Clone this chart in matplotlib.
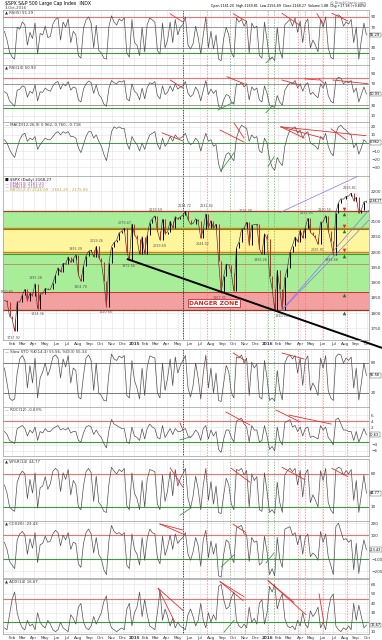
import numpy as np
import pandas as pd
import matplotlib
matplotlib.use("Agg")
import matplotlib.pyplot as plt

W, H = 382, 640
fig = plt.figure(figsize=(W / 100, H / 100), dpi=100)
fig.patch.set_facecolor("white")

first, last = "2014-01-10", "2016-09-30"
x0, x1 = pd.Timestamp("2014-01-06"), pd.Timestamp("2016-10-07")

# ---- weekly S&P 500 (swing extremes kept) ----
spx = [1842, 1838, 1790, 1782, 1741, 1838, 1836, 1859, 1878, 1841, 1866, 1857,
       1897, 1815, 1864, 1863, 1881, 1878, 1878, 1900, 1924, 1949, 1936, 1963,
       1961, 1985, 1967, 1978, 1991, 1925, 1905, 1955, 1988, 2003, 2007, 1985,
       2019, 1982, 1967, 1906, 1821, 1964, 2018, 2032, 2039, 2064, 2068, 2079,
       2002, 1973, 2093,
       2058, 2044, 1993, 2051, 1995, 2055, 2097, 2110, 2119, 2071, 2040, 2108,
       2061, 2067, 2102, 2081, 2117, 2108, 2116, 2122, 2134, 2107, 2092, 2094,
       2110, 2101, 2046, 2076, 2126, 2079, 2104, 2078, 2092, 1971, 1867, 1921,
       1961, 1958, 1931, 1872, 2015, 2033, 2075, 2079, 2099, 2023, 2089, 2090,
       2092, 2012, 1993, 2061,
       2044, 1922, 1880, 1812, 1940, 1880, 1810, 1918, 1948, 2000, 2022, 2050,
       2035, 2073, 2047, 2081, 2111, 2065, 2058, 2047, 2026, 2099, 2099, 2120,
       2071, 2037, 1992, 2130, 2162, 2175, 2174, 2183, 2184, 2194, 2169, 2180,
       2128, 2139, 2165, 2168]

rsi5 = [62, 45, 22, 12, 8, 70, 66, 80, 75, 35, 60, 48, 78, 18, 58, 55, 72, 50, 52, 76,
        85, 88, 45, 80, 70, 86, 40, 62, 55, 15, 10, 68, 84, 90, 78, 30, 74, 25, 20, 10,
        8, 72, 92, 80, 74, 86, 82, 88, 20, 12, 85,
        40, 35, 15, 70, 22, 75, 88, 84, 80, 25, 18, 78, 30, 45, 80, 40, 85, 55, 70, 75,
        90, 35, 28, 38, 72, 50, 18, 55, 90, 30, 62, 28, 55, 8, 5, 48, 70, 55, 20, 12,
        88, 80, 85, 72, 82, 20, 78, 68, 72, 15, 10, 80,
        45, 8, 12, 5, 70, 25, 10, 75, 80, 85, 72, 88, 60, 82, 40, 78, 86, 30, 45, 35,
        22, 85, 70, 90, 30, 12, 8, 92, 94, 90, 72, 80, 76, 85, 40, 70, 8, 45, 78, 55]

rsi14 = [55, 52, 38, 33, 28, 58, 60, 66, 64, 45, 56, 52, 68, 38, 55, 54, 62, 58, 56, 66,
         72, 74, 60, 70, 66, 74, 58, 64, 62, 40, 36, 60, 70, 75, 72, 52, 68, 50, 44, 32,
         28, 62, 76, 72, 70, 75, 73, 76, 42, 38, 70,
         56, 52, 40, 62, 42, 63, 72, 70, 74, 48, 42, 66, 50, 54, 66, 56, 70, 60, 64, 66,
         74, 52, 46, 50, 64, 56, 38, 58, 76, 50, 60, 52, 58, 28, 24, 40, 50, 48, 36, 32,
         70, 68, 72, 64, 70, 40, 64, 58, 62, 40, 36, 66,
         52, 30, 28, 26, 48, 36, 30, 58, 66, 72, 70, 76, 62, 70, 56, 68, 72, 50, 54, 48,
         44, 70, 62, 74, 48, 38, 34, 76, 82, 80, 70, 74, 72, 76, 54, 62, 36, 50, 64, 51]

macd = [4, 0, -8, -14, -18, -6, 4, 10, 12, 2, 6, 4, 8, -8, -2, 2, 6, 4, 4, 8,
        12, 14, 10, 14, 12, 14, 8, 8, 6, -6, -12, -2, 8, 14, 14, 6, 10, 2, -4, -14,
        -22, -6, 14, 20, 18, 20, 18, 18, 0, -8, 8,
        2, -2, -10, 0, -8, 2, 10, 12, 14, -2, -8, 6, -4, 0, 8, 2, 10, 6, 6, 8,
        12, 2, -2, 0, 6, 2, -10, 2, 12, 2, 4, -4, -2, -26, -36, -24, -14, -12, -18, -22,
        6, 16, 22, 20, 18, 2, 10, 6, 8, -10, -12, 6,
        0, -20, -30, -34, -18, -24, -28, -4, 8, 16, 18, 20, 12, 16, 6, 12, 14, 0, -2, -4,
        -8, 8, 4, 12, -4, -12, -16, 12, 20, 22, 18, 16, 12, 10, -6, 0, -14, -6, 4, 1]

sto = [70, 40, 10, 5, 8, 60, 88, 95, 85, 30, 75, 40, 90, 10, 50, 62, 80, 55, 70, 92,
       96, 90, 50, 88, 72, 95, 40, 70, 65, 12, 8, 55, 90, 96, 85, 25, 80, 20, 15, 5,
       4, 60, 98, 88, 85, 94, 90, 95, 15, 10, 85,
       45, 30, 8, 70, 15, 72, 94, 92, 90, 20, 10, 80, 25, 50, 88, 35, 92, 60, 75, 85,
       95, 30, 12, 35, 80, 50, 8, 60, 96, 30, 70, 20, 60, 5, 3, 40, 75, 62, 20, 10,
       92, 90, 96, 80, 90, 15, 82, 70, 78, 12, 8, 85,
       50, 5, 10, 4, 65, 25, 6, 80, 92, 96, 88, 95, 60, 90, 35, 85, 94, 25, 40, 30,
       15, 90, 70, 95, 25, 10, 5, 92, 98, 96, 80, 90, 85, 92, 30, 70, 6, 40, 80, 55]

roc = [0.5, -0.5, -2.5, -3.0, -3.5, 1.5, 2.0, 2.5, 1.5, -1.0, 1.0, 0.0, 2.0, -2.5, 0.5,
       0.0, 1.5, 0.5, 0.5, 1.5, 2.0, 2.5, 1.0, 1.5, 1.0, 1.8, 0.0, 0.5, 0.5, -2.5,
       -3.0, 0.0, 2.0, 2.5, 2.0, -0.5, 1.0, -0.5, -1.5, -3.5, -5.0, 1.0, 4.5, 3.0, 2.5,
       2.0, 1.5, 1.5, -3.0, -3.5, 2.0,
       -1.0, -1.5, -2.5, 1.5, -2.0, 1.5, 3.0, 2.0, 1.5, -1.5, -2.0, 2.5, -1.5, 0.0, 1.5,
       -0.5, 1.5, 0.5, 0.5, 1.0, 1.5, -1.0, -1.5, -0.5, 1.0, 0.0, -2.5, 1.5, 2.5, -2.0,
       1.0, -1.0, 0.5, -5.5, -6.5, -2.0, 1.0, 1.0, -1.5, -3.0, 4.0, 4.5, 5.0, 3.0, 2.0,
       -3.0, 2.5, 1.0, 1.0, -3.0, -2.5, 2.5,
       -1.0, -5.5, -4.5, -6.0, 2.0, -2.5, -4.0, 3.5, 4.0, 4.5, 2.0, 2.5, 0.5, 2.0, -1.0,
       1.5, 2.0, -1.5, -1.0, -1.5, -2.0, 2.5, 1.0, 2.0, -1.5, -2.5, -4.0, 4.5, 5.0, 3.0,
       1.0, 1.0, 0.5, 0.5, -2.5, 0.5, -3.0, -1.0, 1.5, -0.6]

wr = [60, 45, 20, 15, 12, 65, 78, 85, 80, 35, 70, 45, 82, 18, 55, 58, 75, 52, 62, 85,
      90, 86, 48, 82, 70, 88, 42, 68, 60, 20, 15, 58, 84, 90, 82, 30, 76, 28, 22, 12,
      10, 62, 92, 85, 80, 88, 84, 90, 22, 15, 82,
      45, 35, 15, 68, 20, 70, 88, 86, 84, 25, 15, 78, 30, 50, 84, 40, 88, 58, 72, 80,
      90, 35, 18, 40, 76, 52, 15, 60, 90, 32, 66, 25, 58, 10, 8, 42, 72, 60, 25, 15,
      88, 86, 90, 78, 86, 20, 80, 68, 75, 15, 12, 82,
      48, 10, 15, 8, 65, 28, 10, 78, 86, 90, 84, 90, 60, 86, 38, 80, 88, 28, 42, 32,
      20, 86, 68, 90, 28, 15, 8, 88, 92, 90, 78, 86, 80, 88, 32, 68, 10, 42, 78, 45]

cci = [40, -20, -120, -150, -180, 60, 110, 130, 100, -60, 70, -10, 120, -130, 20, 30,
       90, 40, 50, 110, 140, 120, 10, 100, 60, 120, -20, 40, 30, -140, -170, 30, 120,
       150, 110, -50, 80, -60, -100, -190, -230, 60, 180, 130, 110, 120, 100, 120, -150,
       -180, 110,
       -20, -60, -150, 80, -110, 70, 150, 120, 110, -90, -140, 90, -70, 0, 100, -20, 110,
       30, 60, 80, 120, -60, -110, -40, 80, 10, -160, 60, 140, -90, 50, -60, 30, -240,
       -250, -60, 60, 40, -80, -130, 160, 170, 180, 110, 100, -120, 80, 40, 50, -150,
       -130, 90,
       -40, -230, -180, -240, 80, -100, -170, 150, 160, 170, 100, 120, 20, 100, -60, 80,
       110, -80, -50, -70, -110, 130, 40, 110, -80, -150, -230, 170, 200, 130, 60, 70,
       40, 60, -190, 30, -220, -60, 60, -23]

adx = [14, 12, 28, 44, 52, 30, 20, 14, 12, 22, 16, 18, 12, 30, 20, 16, 14, 22, 18, 12,
       10, 12, 20, 14, 12, 10, 28, 24, 18, 36, 40, 20, 14, 12, 16, 26, 18, 24, 30, 42,
       48, 22, 14, 12, 10, 12, 14, 12, 34, 40, 16,
       30, 36, 52, 26, 44, 28, 16, 14, 12, 30, 54, 22, 34, 26, 16, 24, 14, 20, 16, 14,
       12, 28, 34, 26, 16, 22, 40, 22, 14, 30, 20, 28, 22, 58, 60, 44, 34, 36, 46, 52,
       22, 16, 14, 18, 14, 36, 20, 24, 18, 40, 44, 18,
       30, 58, 52, 60, 34, 44, 50, 24, 16, 14, 16, 12, 22, 16, 30, 18, 14, 32, 26, 30,
       36, 14, 20, 12, 32, 46, 50, 16, 12, 10, 14, 12, 16, 12, 40, 22, 38, 26, 14, 17]

# support / resistance bands on the price panel
band_green_hi = (2080, 2134)
band_yellow = (2000, 2080)
band_green_lo = (1870, 2000)
band_red = (1810, 1870)

# price swing labels
swing_dates = ["2014-01-15", "2014-02-03", "2014-04-04", "2014-04-11", "2014-07-24",
               "2014-08-07", "2014-09-19", "2014-10-15", "2014-12-05", "2014-12-16",
               "2015-03-02", "2015-03-11", "2015-05-20", "2015-07-20", "2015-07-08",
               "2015-08-24", "2015-11-03", "2015-12-14", "2016-02-11", "2016-04-20",
               "2016-05-19", "2016-06-08", "2016-06-27", "2016-08-15"]
swing_vals = [1850.84, 1737.92, 1897.28, 1814.36, 1991.39, 1904.78, 2019.26, 1820.66,
              2079.47, 1972.56, 2119.59, 2039.69, 2134.72, 2132.82, 2044.02, 1867.01,
              2116.48, 1993.26, 1810.10, 2111.05, 2025.91, 2120.55, 1991.68, 2193.81]
swing_up = [1, 0, 1, 0, 1, 0, 1, 0, 1, 0, 1, 0, 1, 1, 0, 0, 1, 0, 0, 1, 0, 1, 0, 1]

sig_date = "2016-07-30"
sig_vals = [2143, 2124, 2085, 2069, 2007, 1988, 1858, 1800]
sig_up = [0, 1, 0, 1, 0, 1, 1, 1]

black_dot = "2015-05-15"
red_vl = ["2015-07-20", "2015-11-02", "2016-03-26", "2016-04-14", "2016-06-03", "2016-08-08"]
green_vl = ["2015-09-21", "2016-01-03", "2016-01-19"]

month_ticks = pd.date_range("2014-02-01", "2016-10-01", freq="MS")
month_labels = [str(d.year) if d.month == 1 else d.strftime("%b") for d in month_ticks]

RED, GREEN = "#f07070", "#3c9a3c"


def dates(vals):
    return pd.date_range(first, last, periods=len(vals))


def panel(top, bottom, ylim, yticks):
    ax = fig.add_axes([3 / W, 1 - bottom / H, 366 / W, (bottom - top) / H])
    ax.set_xlim(x0, x1)
    ax.set_ylim(*ylim)
    ax.set_yticks(yticks)
    ax.set_xticks(month_ticks)
    ax.set_xticklabels([])
    ax.yaxis.tick_right()
    ax.tick_params(axis="both", length=0, labelsize=3, pad=1.5, colors="#333333")
    ax.grid(True, color="#e2e2e2", lw=0.4)
    ax.set_axisbelow(True)
    for s in ax.spines.values():
        s.set_color("#9a9a9a")
        s.set_linewidth(0.5)
    ax.axvline(pd.Timestamp(black_dot), color="black", ls=(0, (1, 1)), lw=0.6)
    for d in red_vl:
        ax.axvline(pd.Timestamp(d), color="#ff7070", ls=(0, (2, 2)), lw=0.5)
    for d in green_vl:
        ax.axvline(pd.Timestamp(d), color="#60b060", ls=(0, (2, 2)), lw=0.5)
    return ax


def label(ax, txt, color="#333333", dy=0.0):
    ax.text(0.005, 0.985 - dy, txt, transform=ax.transAxes, fontsize=2.8,
            va="top", ha="left", color=color)


def vbox(ax, val, txt, size=2.5):
    # current-value box on the right axis; drop tick labels it would cover
    lo, hi = ax.get_ylim()
    ppu = ax.bbox.height / (hi - lo)
    ax.set_yticks([t for t in ax.get_yticks() if abs(t - val) * ppu > 5.5])
    ax.set_ylim(lo, hi)
    ax.annotate(txt, xy=(1, val), xycoords=("axes fraction", "data"),
                xytext=(0.8, 0), textcoords="offset points", fontsize=size,
                va="center", ha="left", annotation_clip=False,
                bbox=dict(boxstyle="square,pad=0.12", fc="white", ec="#444444", lw=0.3))


def trend(ax, segs, color):
    for d1, v1, d2, v2 in segs:
        ax.plot([pd.Timestamp(d1), pd.Timestamp(d2)], [v1, v2], color=color, lw=0.6)


def osc(ax, vals):
    ax.plot(dates(vals), vals, color="#505050", lw=0.5)


def xlabels(ax):
    ax.set_xticklabels(month_labels, fontsize=3)
    for t, s in zip(ax.get_xticklabels(), month_labels):
        if s.isdigit():
            t.set_fontweight("bold")


# ---- header ----
fig.text(5 / W, 1 - 3 / H, "\\$SPX S&P 500 Large Cap Index  INDX", fontsize=3.3, va="center")
fig.text(5 / W, 1 - 8 / H, "3-Oct-2016", fontsize=2.8, va="center", color="#444444")
fig.text(366 / W, 1 - 2 / H, "@ StockCharts.com", fontsize=2.6, va="center", ha="right",
         color="#666666")
fig.text(366 / W, 1 - 6.5 / H,
         "Open 2161.20  High 2169.81  Low 2156.89  Close 2168.27  Volume 1.8B  Chg +17.98 (+0.80%)",
         fontsize=2.3, va="center", ha="right")

# ---- panel 1 ----
ax = panel(10, 65, (-3.3, 103.3), [10, 30, 50, 70, 90])
ax.axhline(90, color=RED, lw=0.8)
ax.axhline(20, color=GREEN, lw=0.8)
for v in (70, 30):
    ax.axhline(v, color="#777777", lw=0.5)
osc(ax, rsi5)
trend(ax, [("2015-04-10", 96, "2015-05-15", 80), ("2015-09-30", 96, "2015-11-04", 82),
           ("2016-02-11", 97, "2016-04-01", 73), ("2016-05-17", 96, "2016-06-05", 75),
           ("2016-06-27", 97, "2016-08-10", 82)], "#e03030")
trend(ax, [("2015-12-29", 1, "2016-01-17", 12)], GREEN)
label(ax, "\u25B2 RSI(5) 55.29")
vbox(ax, rsi5[-1], "55.29")

# ---- panel 2 ----
ax = panel(65, 122, (-1.2, 104.9), [10, 30, 50, 70, 90])
ax.axhline(80, color=RED, lw=0.8)
ax.axhline(25, color=GREEN, lw=0.8)
for v in (70, 30):
    ax.axhline(v, color="#777777", lw=0.5)
osc(ax, rsi14)
trend(ax, [("2015-04-10", 77, "2015-05-15", 62), ("2015-09-13", 83, "2015-10-30", 70),
           ("2016-02-11", 77, "2016-03-29", 68), ("2016-04-14", 79, "2016-05-23", 77),
           ("2016-05-23", 79, "2016-06-05", 71), ("2016-06-30", 77, "2016-10-04", 70)],
      "#e03030")
trend(ax, [("2015-08-19", 21, "2015-10-02", 36), ("2015-12-29", 16, "2016-01-17", 30)], GREEN)
label(ax, "\u25B2 RSI(14) 50.93")
vbox(ax, rsi14[-1], "50.93")

# ---- panel 3 (MACD) ----
ax = panel(122, 176, (-41, 26), [-30, -20, -10, 0, 10, 20])
ax.axhline(0, color=GREEN, lw=0.7)
osc(ax, macd)
trend(ax, [("2015-03-19", 12.5, "2015-05-15", 2.5), ("2015-08-25", 16, "2015-10-30", 1),
           ("2015-10-02", 25, "2015-10-30", 6), ("2016-02-08", 20, "2016-09-29", 9),
           ("2016-02-08", 20, "2016-04-12", 6), ("2016-02-08", 20, "2016-06-03", 6),
           ("2016-06-25", 17.5, "2016-08-05", 4)], "#e03030")
trend(ax, [("2015-08-28", -34, "2015-10-02", -12.5), ("2016-01-04", -29, "2016-01-20", -17.5)],
      GREEN)
label(ax, "\u2014 MACD(12,26,9) 0.962, 0.760, -0.718")
vbox(ax, macd[-1], "0.962")

# ---- price panel ----
ax = panel(176, 340, (1712, 2250), list(range(1750, 2250, 50)))
ax.set_zorder(5)
ax.axhspan(*band_green_hi, color="#a8ee98", lw=0)
ax.axhspan(*band_yellow, color="#fff59c", lw=0)
ax.axhspan(*band_green_lo, color="#a8ee98", lw=0)
ax.axhspan(*band_red, color="#f3a0a0", lw=0)
ax.axhline(band_green_hi[1], color="#b03a20", lw=0.9)
ax.axhline(band_yellow[1] - 4, color="#30a030", lw=0.8)
ax.axhline(band_yellow[1], color="#f07010", lw=1.0)
ax.axhline(band_yellow[0] - 5, color="#30a030", lw=0.8)
ax.axhline(band_yellow[0], color="#f07010", lw=1.0)
ax.axhline(1960, color="#b06040", lw=0.4)
ax.axhline(band_red[1], color="#d03030", lw=0.7)
ax.axhline(band_red[0], color="#8a3a20", lw=0.9)

px = dates(spx)
close = np.array(spx, dtype=float)
opn = np.r_[close[0], close[:-1]]
up = close >= opn
ax.plot(px, close, color="#333333", lw=0.45)
ax.vlines(px[up], opn[up], close[up], color="black", lw=0.7)
ax.vlines(px[~up], opn[~up], close[~up], color="#d42020", lw=0.7)

for d, v, u in zip(swing_dates, swing_vals, swing_up):
    ax.annotate(f"{v:.2f}", xy=(pd.Timestamp(d), v), xytext=(0, 2.5 if u else -2.5),
                textcoords="offset points", fontsize=2.4, color="#555555", ha="center",
                va="bottom" if u else "top")

for v, u in zip(sig_vals, sig_up):
    ax.plot(pd.Timestamp(sig_date), v, marker="^" if u else "v", ms=2.6,
            color="#1f7a1f" if u else "#e02a1a", mew=0)

for d1, v1, d2, v2 in [("2016-02-11", 1810, "2016-11-12", 2188),
                       ("2016-02-11", 1810, "2016-11-12", 2150),
                       ("2016-02-05", 2130, "2016-11-12", 2286)]:
    ax.plot([pd.Timestamp(d1), pd.Timestamp(d2)], [v1, v2], color="#7a7af0", lw=0.5)

ax.plot([pd.Timestamp("2014-12-12"), pd.Timestamp("2016-11-12")], [1978, 1686],
        color="black", lw=1.4, clip_on=False, solid_capstyle="butt")

ax.text(pd.Timestamp("2015-08-08"), 1832, "DANGER ZONE", fontsize=4.4, fontweight="bold",
        color="#e02020", ha="center", va="center",
        bbox=dict(boxstyle="square,pad=0.25", fc="white", ec="#e02020", lw=0.6))

label(ax, "\u25A0 \\$SPX (Daily) 2168.27", "#111111")
label(ax, "\u2014 EMA(13) 2161.20", "#c040c0", 0.02)
label(ax, "\u2014 EMA(34) 2154.02", "#777777", 0.04)
label(ax, "\u2014 BB(20,2.0) 2146.69 - 2161.25 - 2175.86", "#c8a040", 0.06)
vbox(ax, spx[-1], "2168.27", size=2.1)
xlabels(ax)

# ---- panel 5 (stochastic) ----
ax = panel(349, 407, (-8, 108), [20, 50, 80])
for v in (80, 20):
    ax.axhline(v, color="#666666", lw=0.6)
osc(ax, sto)
trend(ax, [("2015-09-30", 100, "2015-11-04", 84), ("2016-02-11", 100, "2016-04-12", 88)],
      "#e03030")
label(ax, "\u2014 Slow STO %K(14,3) 55.56, %D(3) 55.34")
vbox(ax, sto[-1], "55.56")

# ---- panel 6 (ROC) ----
ax = panel(407, 456, (-7.7, 8.7), [-6, -4, -2, 0, 2, 4, 6])
ax.axhline(4, color=RED, lw=0.8)
ax.axhline(-3, color=GREEN, lw=0.8)
osc(ax, roc)
trend(ax, [("2015-05-07", 3.4, "2015-05-15", 1.0), ("2015-09-10", 7, "2015-11-15", 2.7),
           ("2016-01-25", 7.7, "2016-04-01", 3.7), ("2016-03-01", 6, "2016-06-25", 3)],
      "#e03030")
trend(ax, [("2015-05-07", -2.3, "2015-06-06", -1.3)], GREEN)
label(ax, "\u2014 ROC(12) -0.63%")
vbox(ax, roc[-1], "-0.63")

# ---- panel 7 ----
ax = panel(459, 521, (-5.5, 107), [20, 50, 80])
ax.axhline(80, color=RED, lw=0.8)
ax.axhline(20, color=GREEN, lw=0.8)
osc(ax, wr)
trend(ax, [("2015-04-10", 91, "2015-05-15", 56), ("2015-09-25", 90, "2015-11-15", 65),
           ("2016-02-11", 92, "2016-04-12", 70), ("2016-06-27", 90, "2016-08-10", 75)],
      "#e03030")
trend(ax, [("2015-05-07", 5, "2015-06-06", 18)], GREEN)
label(ax, "\u25B2 W%R(14) 44.77")
vbox(ax, wr[-1], "44.77")

# ---- panel 8 (CCI) ----
ax = panel(521, 578, (-258, 217), [-200, -100, 0, 100, 200])
ax.axhline(100, color=RED, lw=0.8)
ax.axhline(-100, color=GREEN, lw=0.8)
osc(ax, cci)
trend(ax, [("2015-03-13", 192, "2015-05-15", 109), ("2015-03-13", 192, "2015-05-15", 142),
           ("2015-09-30", 190, "2015-11-04", 120)], "#e03030")
trend(ax, [("2015-08-28", -166, "2015-10-02", -66), ("2015-12-29", -133, "2016-01-20", -50)],
      GREEN)
label(ax, "\u25B2 CCI(20) -23.43")
vbox(ax, cci[-1], "-23.43")

# ---- panel 9 ----
ax = panel(579, 634, (7.5, 65.8), [10, 20, 30, 40, 50, 60])
ax.axhline(45, color=RED, lw=0.8)
ax.axhline(20, color=GREEN, lw=0.8)
osc(ax, adx)
trend(ax, [("2015-03-08", 56, "2015-05-15", 32.5), ("2015-03-08", 56, "2015-04-23", 20),
           ("2015-08-25", 63, "2015-10-27", 43), ("2015-08-25", 63, "2015-10-30", 47),
           ("2016-01-04", 64, "2016-04-17", 28), ("2016-01-04", 64, "2016-03-15", 41),
           ("2016-05-23", 50, "2016-06-05", 20)], "#e03030")
trend(ax, [("2015-09-05", 9.5, "2015-10-02", 22)], GREEN)
label(ax, "\u25B2 ADX(14) 16.67")
vbox(ax, adx[-1], "16.67")
xlabels(ax)

fig.savefig("out.png", dpi=100, facecolor="white")
